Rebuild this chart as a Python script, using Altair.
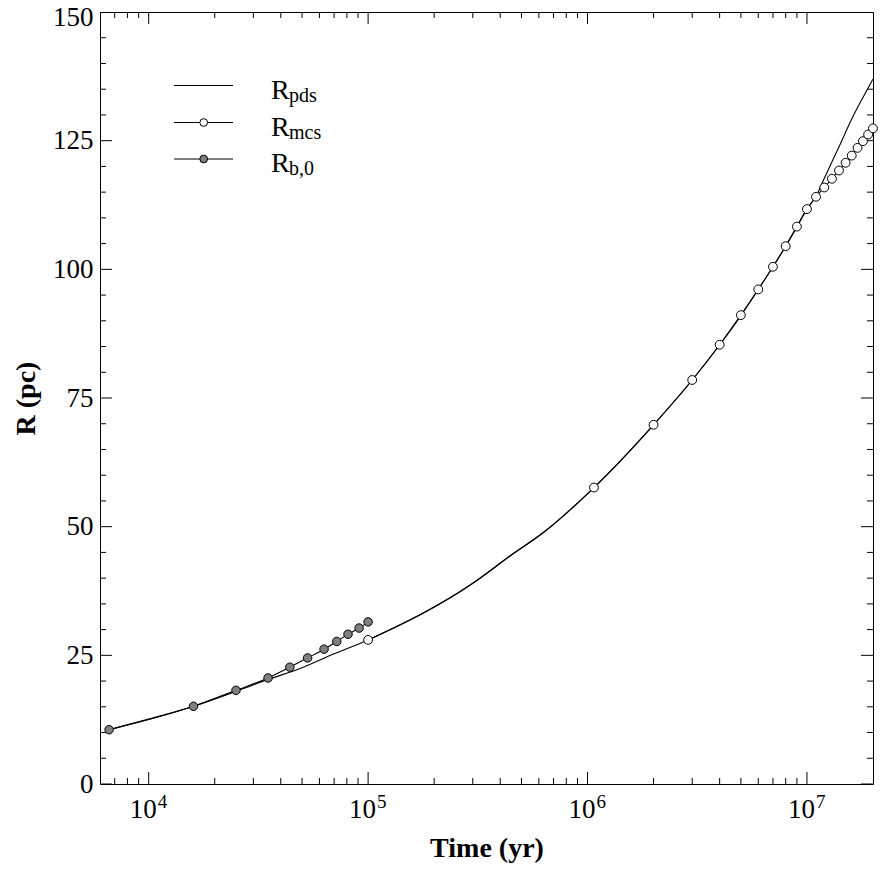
import altair as alt
import pandas as pd

# Shell radius R_pds (pc) against time (yr)
pds_time = [6.6e3, 1.0e4, 1.6e4, 2.5e4, 3.5e4, 5.0e4, 7.0e4, 1.0e5, 3.0e5, 4.4e5, 6.4e5, 1.07e6,
            2.0e6, 3.0e6, 4.0e6, 5.0e6, 6.0e6, 7.0e6, 8.0e6, 9.0e6, 1.0e7, 1.1e7, 1.2e7,
            1.4e7, 1.6e7, 1.8e7, 2.0e7]
pds_radius = [10.55, 12.6, 15.1, 18.0, 20.3, 22.6, 25.3, 28.0, 39.0, 44.2, 49.1, 57.6,
              69.8, 78.5, 85.3, 91.0, 96.1, 100.5, 104.5, 108.3, 111.7, 114.2, 117.7,
              123.8, 129.2, 133.4, 137.0]

# R_mcs: line through every sample, open symbol on the flagged ones
mcs_time = [1.0e5, 3.0e5, 4.4e5, 6.4e5, 1.07e6, 2.0e6, 3.0e6, 4.0e6, 5.0e6, 6.0e6, 7.0e6,
            8.0e6, 9.0e6, 1.0e7, 1.1e7, 1.2e7, 1.3e7, 1.4e7, 1.5e7, 1.6e7, 1.7e7, 1.8e7,
            1.9e7, 2.0e7]
mcs_radius = [28.0, 39.0, 44.2, 49.1, 57.6, 69.8, 78.5, 85.35, 91.1, 96.1, 100.5,
              104.5, 108.3, 111.7, 114.1, 115.9, 117.6, 119.2, 120.7, 122.1, 123.6, 124.9,
              126.2, 127.4]
mcs_symbol = [True, False, False, False, True, True, True, True, True, True, True,
              True, True, True, True, True, True, True, True, True, True, True,
              True, True]

# R_b,0
b0_time = [6.6e3, 1.6e4, 2.5e4, 3.5e4, 4.4e4, 5.3e4, 6.3e4, 7.2e4, 8.1e4, 9.1e4, 1.0e5]
b0_radius = [10.55, 15.1, 18.2, 20.6, 22.7, 24.5, 26.2, 27.7, 29.1, 30.3, 31.5]

# Axes
x_domain = [6000, 2.0e7]
y_domain = [0, 150]
x_major = [1e4, 1e5, 1e6, 1e7]
x_exponent = ["4", "5", "6", "7"]
x_minor = [m * 10 ** e for e in range(3, 8) for m in range(2, 10)
           if x_domain[0] < m * 10 ** e < x_domain[1]]
y_major = [0, 25, 50, 75, 100, 125, 150]
y_minor = [v for v in range(5, 150, 5) if v % 25]

legend_keys = ["pds", "mcs", "b,0"]
legend_rows = [73.5, 110.5, 147.0]

FONT = "Liberation Serif"
W, H = 773, 772

xs = alt.Scale(type="log", domain=x_domain, nice=False)
ys = alt.Scale(domain=y_domain, nice=False)

x_axis = alt.Axis(
    labels=False, ticks=False, domain=False, grid=False, tickSize=0,
    title="Time (yr)", titleFont=FONT, titleFontSize=28, titleFontWeight="bold",
    titleColor="black", titleX=W / 2, titleY=72, titleBaseline="alphabetic")
y_axis = alt.Axis(
    values=y_major, ticks=False, tickSize=0, domain=False, grid=False,
    labelFont=FONT, labelFontSize=27, labelColor="black", labelPadding=7,
    labelOffset={"condition": {"test": "datum.value == 150", "value": 5}, "value": 0},
    title="R (pc)", titleFont=FONT, titleFontSize=28, titleFontWeight="bold",
    titleColor="black", titleAngle=270, titleX=-74, titleY=H / 2,
    titleAlign="center", titleBaseline="middle")

X = alt.X("t:Q", scale=xs, axis=x_axis, title="Time (yr)")
Y = alt.Y("r:Q", scale=ys, axis=y_axis, title="R (pc)")

pds = pd.DataFrame({"t": pds_time, "r": pds_radius})
mcs = pd.DataFrame({"t": mcs_time, "r": mcs_radius, "sym": mcs_symbol})
b0 = pd.DataFrame({"t": b0_time, "r": b0_radius})

line_kw = dict(color="black", strokeWidth=1.1, interpolate="monotone")

pds_line = alt.Chart(pds).mark_line(**line_kw).encode(x=X, y=Y)
mcs_line = alt.Chart(mcs).mark_line(**line_kw).encode(x=X, y=Y)
b0_line = alt.Chart(b0).mark_line(**line_kw).encode(x=X, y=Y)

mcs_pts = alt.Chart(mcs).transform_filter("datum.sym").mark_point(
    shape="circle", size=78, filled=True, fill="white", stroke="black",
    strokeWidth=1, opacity=1).encode(x=X, y=Y)
b0_pts = alt.Chart(b0).mark_point(
    shape="circle", size=72, filled=True, fill="#7f7f7f", stroke="black",
    strokeWidth=1, opacity=1).encode(x=X, y=Y)


def ticks(tv, rv, orient, length):
    df = pd.DataFrame({"t": tv, "r": rv})
    return alt.Chart(df).mark_tick(
        orient=orient, size=2 * length, thickness=1, color="black",
        opacity=1, clip=True).encode(x=X, y=Y)


tick_layers = [
    ticks(x_major, [0] * len(x_major), "vertical", 12),
    ticks(x_minor, [0] * len(x_minor), "vertical", 6),
    ticks(x_major, [150] * len(x_major), "vertical", 12),
    ticks(x_minor, [150] * len(x_minor), "vertical", 6),
    ticks([x_domain[0]] * len(y_major), y_major, "horizontal", 12),
    ticks([x_domain[0]] * len(y_minor), y_minor, "horizontal", 6),
    ticks([x_domain[1]] * len(y_major), y_major, "horizontal", 12),
    ticks([x_domain[1]] * len(y_minor), y_minor, "horizontal", 6),
]

# Decade labels 10^n below the x axis
xlab = pd.DataFrame({"t": x_major, "exp": x_exponent})
xlab_base = alt.Chart(xlab).mark_text(
    text="10", font=FONT, fontSize=27, align="right", baseline="alphabetic",
    dx=8, color="black").encode(x=X, y=alt.value(H + 34))
xlab_exp = alt.Chart(xlab).mark_text(
    font=FONT, fontSize=19, align="left", baseline="alphabetic",
    dx=9, color="black").encode(x=X, y=alt.value(H + 24), text="exp:N")

# Legend block in the upper left
legend_layers = []
for key, row in zip(legend_keys, legend_rows):
    one = pd.DataFrame({"key": [key]})
    legend_layers.append(alt.Chart(one).mark_rule(color="black", strokeWidth=1).encode(
        x=alt.value(74), x2=alt.value(133), y=alt.value(row)))
    if key != "pds":
        legend_layers.append(alt.Chart(one).mark_point(
            shape="circle", size=60, filled=True,
            fill="white" if key == "mcs" else "#7f7f7f", stroke="black",
            strokeWidth=1, opacity=1).encode(x=alt.value(103.7), y=alt.value(row)))
    legend_layers.append(alt.Chart(one).mark_text(
        text="R", font=FONT, fontSize=28, align="left", baseline="alphabetic",
        color="black").encode(x=alt.value(171), y=alt.value(row + 13)))
    legend_layers.append(alt.Chart(one).mark_text(
        font=FONT, fontSize=20, align="left", baseline="alphabetic",
        color="black").encode(x=alt.value(189), y=alt.value(row + 16), text="key:N"))

chart = alt.layer(
    pds_line, mcs_line, b0_line, *tick_layers, mcs_pts, b0_pts,
    xlab_base, xlab_exp, *legend_layers,
).properties(
    width=W, height=H,
    autosize=alt.AutoSizeParams(type="none"),
    padding={"left": 100, "top": 12, "right": 13, "bottom": 102},
    background="white",
).configure_view(stroke="black", strokeWidth=1, fill="white")

chart.save("out.html", embed_options={"renderer": "svg", "actions": False})
